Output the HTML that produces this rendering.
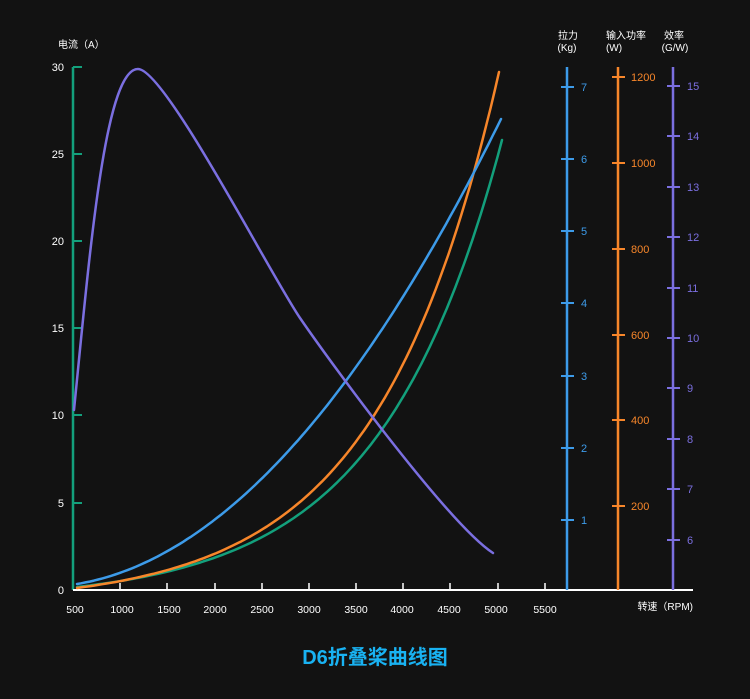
<!DOCTYPE html>
<html><head><meta charset="utf-8"><style>
body{margin:0;background:#121212;}
svg text{font-family:"Liberation Sans","Noto Sans CJK SC",sans-serif;}
</style></head><body>
<svg width="750" height="694" xmlns="http://www.w3.org/2000/svg">
<rect width="750" height="694" fill="#121212"/>
<text x="58" y="48" fill="#fff" font-size="10">电流（A）</text>
<line x1="73" y1="67" x2="73" y2="590" stroke="#13a07c" stroke-width="2.5"/>
<g stroke="#13a07c" stroke-width="2">
<line x1="73" y1="67" x2="82" y2="67"/><line x1="73" y1="154" x2="82" y2="154"/><line x1="73" y1="241" x2="82" y2="241"/><line x1="73" y1="328" x2="82" y2="328"/><line x1="73" y1="415" x2="82" y2="415"/><line x1="73" y1="503" x2="82" y2="503"/>
</g>
<g fill="#fff" font-size="11" text-anchor="end">
<text x="64" y="71">30</text><text x="64" y="158">25</text><text x="64" y="245">20</text><text x="64" y="332">15</text><text x="64" y="419">10</text><text x="64" y="507">5</text><text x="64" y="594">0</text>
</g>
<line x1="73" y1="590" x2="693" y2="590" stroke="#fff" stroke-width="2"/>
<g stroke="#fff" stroke-width="1.5">
<line x1="120" y1="583" x2="120" y2="590"/><line x1="167" y1="583" x2="167" y2="590"/><line x1="215" y1="583" x2="215" y2="590"/><line x1="262" y1="583" x2="262" y2="590"/><line x1="309" y1="583" x2="309" y2="590"/><line x1="356" y1="583" x2="356" y2="590"/><line x1="403" y1="583" x2="403" y2="590"/><line x1="450" y1="583" x2="450" y2="590"/><line x1="498" y1="583" x2="498" y2="590"/><line x1="545" y1="583" x2="545" y2="590"/>
</g>
<g fill="#fff" font-size="10.5" text-anchor="middle">
<text x="75" y="613">500</text><text x="122" y="613">1000</text><text x="169" y="613">1500</text><text x="215" y="613">2000</text><text x="262" y="613">2500</text><text x="309" y="613">3000</text><text x="356" y="613">3500</text><text x="402" y="613">4000</text><text x="449" y="613">4500</text><text x="496" y="613">5000</text><text x="545" y="613">5500</text>
</g>
<text x="693" y="610" fill="#fff" font-size="10" text-anchor="end">转速（RPM)</text>
<text x="568" y="39" fill="#fff" font-size="10" text-anchor="middle">拉力</text>
<text x="567" y="51" fill="#fff" font-size="10" text-anchor="middle">(Kg)</text>
<line x1="567" y1="67" x2="567" y2="590" stroke="#3d9be9" stroke-width="2.5"/>
<g stroke="#3d9be9" stroke-width="2"><line x1="561" y1="87" x2="574" y2="87"/><line x1="561" y1="159" x2="574" y2="159"/><line x1="561" y1="231" x2="574" y2="231"/><line x1="561" y1="303" x2="574" y2="303"/><line x1="561" y1="376" x2="574" y2="376"/><line x1="561" y1="448" x2="574" y2="448"/><line x1="561" y1="520" x2="574" y2="520"/></g>
<g fill="#3d9be9" font-size="11"><text x="581" y="91">7</text><text x="581" y="163">6</text><text x="581" y="235">5</text><text x="581" y="307">4</text><text x="581" y="380">3</text><text x="581" y="452">2</text><text x="581" y="524">1</text></g>
<text x="626" y="39" fill="#fff" font-size="10" text-anchor="middle">输入功率</text>
<text x="614" y="51" fill="#fff" font-size="10" text-anchor="middle">(W)</text>
<line x1="618" y1="67" x2="618" y2="590" stroke="#f7862a" stroke-width="2.5"/>
<g stroke="#f7862a" stroke-width="2"><line x1="612" y1="77" x2="625" y2="77"/><line x1="612" y1="163" x2="625" y2="163"/><line x1="612" y1="249" x2="625" y2="249"/><line x1="612" y1="335" x2="625" y2="335"/><line x1="612" y1="420" x2="625" y2="420"/><line x1="612" y1="506" x2="625" y2="506"/></g>
<g fill="#f7862a" font-size="11"><text x="631" y="81">1200</text><text x="631" y="167">1000</text><text x="631" y="253">800</text><text x="631" y="339">600</text><text x="631" y="424">400</text><text x="631" y="510">200</text></g>
<text x="674" y="39" fill="#fff" font-size="10" text-anchor="middle">效率</text>
<text x="675" y="51" fill="#fff" font-size="10" text-anchor="middle">(G/W)</text>
<line x1="673" y1="67" x2="673" y2="590" stroke="#7b6fe0" stroke-width="2.5"/>
<g stroke="#7b6fe0" stroke-width="2"><line x1="667" y1="86" x2="680" y2="86"/><line x1="667" y1="136" x2="680" y2="136"/><line x1="667" y1="187" x2="680" y2="187"/><line x1="667" y1="237" x2="680" y2="237"/><line x1="667" y1="288" x2="680" y2="288"/><line x1="667" y1="338" x2="680" y2="338"/><line x1="667" y1="388" x2="680" y2="388"/><line x1="667" y1="439" x2="680" y2="439"/><line x1="667" y1="489" x2="680" y2="489"/><line x1="667" y1="540" x2="680" y2="540"/></g>
<g fill="#7b6fe0" font-size="11"><text x="687" y="90">15</text><text x="687" y="140">14</text><text x="687" y="191">13</text><text x="687" y="241">12</text><text x="687" y="292">11</text><text x="687" y="342">10</text><text x="687" y="392">9</text><text x="687" y="443">8</text><text x="687" y="493">7</text><text x="687" y="544">6</text></g>
<g fill="none" stroke-width="2.5" stroke-linecap="round" stroke-linejoin="round">
<path id="cg" stroke="#13a07c"/>
<path id="co" stroke="#f7862a"/>
<path id="cb" stroke="#3d9be9"/>
<path d="M74,410 C90,250 105,69 138,69 C165,69 270,274 300,318 C335,369 450,525 493,553" stroke="#7b6fe0"/>
</g>
<text x="375" y="664" fill="#19b2f2" font-size="20" font-weight="bold" text-anchor="middle">D6折叠桨曲线图</text>
</svg>
<script>
function gen(x0,x1,y0,h,f){var s="";for(var i=0;i<=100;i++){var u=i/100;var x=x0+(x1-x0)*u;var y=y0-h*f(u);s+=(i?"L":"M")+x.toFixed(1)+","+y.toFixed(1);}return s;}
var k=3.5,E=Math.exp(k)-1;
function ex(u){return (Math.exp(k*u)-1)/E;}
document.getElementById("co").setAttribute("d",gen(77,499,588,516,ex));
document.getElementById("cg").setAttribute("d",gen(77,502,587,447,ex));
document.getElementById("cb").setAttribute("d",gen(77,501,584,465,function(u){return 0.15*u+0.85*u*u;}));
</script>
</body></html>
